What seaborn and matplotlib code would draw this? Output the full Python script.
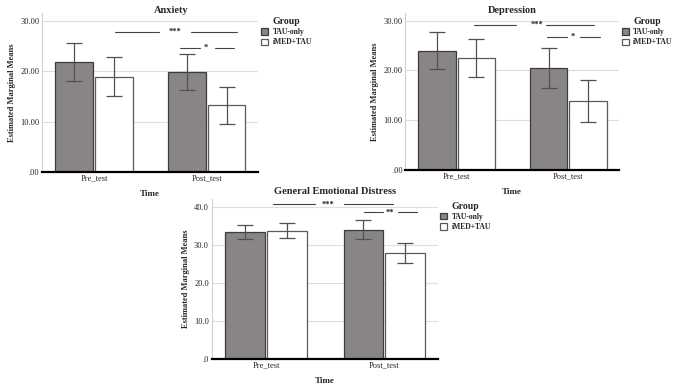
import numpy as np
import pandas as pd
import seaborn as sns
import matplotlib.pyplot as plt

# data (estimated marginal means with 95% CI)
times = ["Pre_test", "Post_test"]
groups = ["TAU-only", "iMED+TAU"]

anx_tau = [21.8, 19.9]
anx_tau_lo = [18.0, 16.3]
anx_tau_hi = [25.6, 23.5]
anx_imed = [18.9, 13.3]
anx_imed_lo = [15.0, 9.6]
anx_imed_hi = [22.9, 16.9]

dep_tau = [24.0, 20.4]
dep_tau_lo = [20.3, 16.4]
dep_tau_hi = [27.8, 24.6]
dep_imed = [22.6, 13.8]
dep_imed_lo = [18.7, 9.7]
dep_imed_hi = [26.3, 18.0]

ged_tau = [33.4, 33.9]
ged_tau_lo = [31.5, 31.4]
ged_tau_hi = [35.3, 36.4]
ged_imed = [33.7, 27.8]
ged_imed_lo = [31.9, 25.2]
ged_imed_hi = [35.6, 30.4]

sns.set_style("white")
plt.rcParams["font.family"] = ["Liberation Serif", "DejaVu Serif"]

TAU_COLOR = "#8b8484"
IMED_COLOR = "#ffffff"
ERR_COLOR = "#505050"


def draw_panel(ax, title, title_x, title_pad, tau, tau_lo, tau_hi, imed, imed_lo, imed_hi,
               yticks, ytick_labels, ytop, sig, legend_anchor, fig):
    df = pd.DataFrame({
        "Time": times * 2,
        "Group": [groups[0]] * 2 + [groups[1]] * 2,
        "Mean": tau + imed,
    })
    sns.barplot(data=df, x="Time", y="Mean", hue="Group", order=times,
                hue_order=groups, palette=[TAU_COLOR, IMED_COLOR],
                width=0.705, gap=0.05, errorbar=None, ax=ax,
                edgecolor="#3c3c3c", linewidth=0.9, zorder=3)
    bar_containers = list(ax.containers)
    # edge colour of the white bars
    for bar in bar_containers[1]:
        bar.set_edgecolor("#5a5a5a")

    # error bars at the bar centres
    los = [tau_lo, imed_lo]
    his = [tau_hi, imed_hi]
    means = [tau, imed]
    for i, cont in enumerate(bar_containers):
        xs = [b.get_x() + b.get_width() / 2 for b in cont]
        m = np.array(means[i])
        yerr = [m - np.array(los[i]), np.array(his[i]) - m]
        ax.errorbar(xs, m, yerr=yerr, fmt="none", ecolor=ERR_COLOR,
                    elinewidth=0.9, capsize=5.5, capthick=0.9, zorder=4)

    # significance lines
    for (y, x1, x2, xs, x3, x4, txt) in sig:
        ax.plot([x1, x2], [y, y], color="#444444", lw=0.8, zorder=5)
        ax.plot([x3, x4], [y, y], color="#444444", lw=0.8, zorder=5)
        ax.text(xs, y, txt, ha="center", va="center", fontsize=6,
                fontweight="bold", color="#222222")

    ax.set_xlim(-0.46, 1.455)
    ax.set_ylim(0, ytop)
    ax.set_yticks(yticks)
    ax.set_yticklabels(ytick_labels)
    ax.yaxis.grid(True, color="#dddddd", lw=0.8, zorder=0)
    ax.set_axisbelow(True)
    ax.tick_params(axis="both", length=0, labelsize=6, pad=2)
    for s in ["top", "right"]:
        ax.spines[s].set_visible(False)
    ax.spines["left"].set_color("#cccccc")
    ax.spines["left"].set_linewidth(0.7)
    ax.spines["bottom"].set_color("black")
    ax.spines["bottom"].set_linewidth(1.6)
    ax.spines["bottom"].set_zorder(6)

    ax.set_title(title, fontsize=7.5, fontweight="bold", pad=title_pad, x=title_x)
    ax.set_ylabel("Estimated Marginal Means", fontsize=6, fontweight="bold", labelpad=3)
    ax.set_xlabel("Time", fontsize=6.5, fontweight="bold", labelpad=5)

    if ax.get_legend() is not None:
        ax.get_legend().remove()
    leg = ax.legend(bar_containers, groups, title="Group", loc="upper left",
                    bbox_to_anchor=legend_anchor, bbox_transform=fig.transFigure,
                    frameon=False, prop={"size": 5.5, "weight": "bold"},
                    handlelength=0.9, handleheight=0.9, labelspacing=0.3,
                    handletextpad=0.6, borderaxespad=0, borderpad=0)
    leg.get_title().set_fontsize(7)
    leg.get_title().set_fontweight("bold")


fig = plt.figure(figsize=(6.91, 3.89), dpi=100)
ax1 = fig.add_axes([0.0608, 0.558, 0.3126, 0.408])
ax2 = fig.add_axes([0.5867, 0.563, 0.3090, 0.403])
ax3 = fig.add_axes([0.3064, 0.0771, 0.3275, 0.411])

draw_panel(ax1, "Anxiety", 0.6, 0.5, anx_tau, anx_tau_lo, anx_tau_hi,
           anx_imed, anx_imed_lo, anx_imed_hi,
           [0, 10, 20, 30], [".00", "10.00", "20.00", "30.00"], 31.5,
           [(27.8, 0.19, 0.58, 0.715, 0.86, 1.27, "***"),
            (24.6, 0.76, 0.945, 0.99, 1.07, 1.24, "*")],
           (0.378, 0.957), fig)

draw_panel(ax2, "Depression", 0.5, 0.5, dep_tau, dep_tau_lo, dep_tau_hi,
           dep_imed, dep_imed_lo, dep_imed_hi,
           [0, 10, 20, 30], [".00", "10.00", "20.00", "30.00"], 31.5,
           [(29.1, 0.155, 0.53, 0.72, 0.80, 1.23, "***"),
            (26.8, 0.81, 0.99, 1.04, 1.105, 1.285, "*")],
           (0.9, 0.957), fig)

draw_panel(ax3, "General Emotional Distress", 0.545, 4, ged_tau, ged_tau_lo, ged_tau_hi,
           ged_imed, ged_imed_lo, ged_imed_hi,
           [0, 10, 20, 30, 40], [".0", "10.0", "20.0", "30.0", "40.0"], 42,
           [(40.6, 0.058, 0.41, 0.526, 0.66, 1.076, "***"),
            (38.5, 0.83, 0.99, 1.05, 1.118, 1.279, "**")],
           (0.637, 0.482), fig)

fig.savefig("out.png", dpi=100)
